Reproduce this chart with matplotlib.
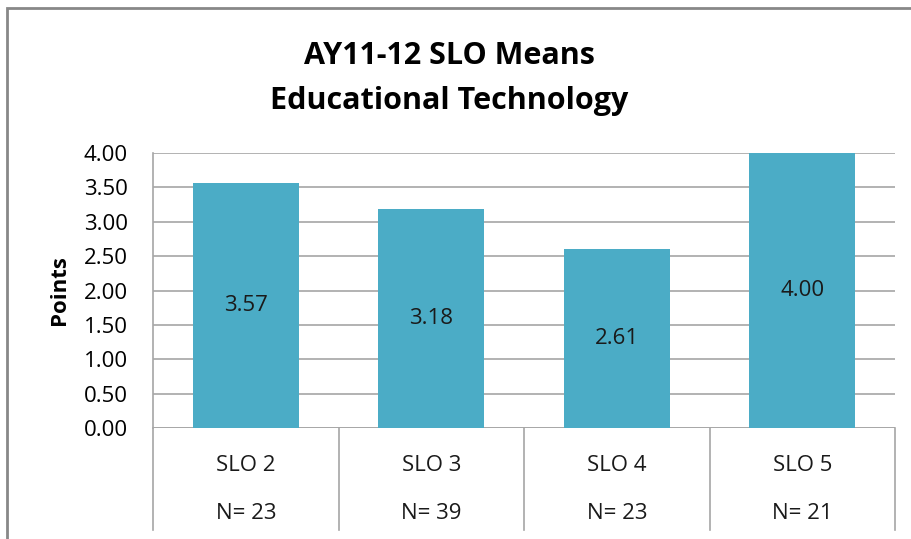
import matplotlib.pyplot as plt
import matplotlib.transforms as mtransforms
from matplotlib.patches import Rectangle

plt.rcParams['font.family'] = ['Open Sans', 'DejaVu Sans']

categories = ['SLO 2', 'SLO 3', 'SLO 4', 'SLO 5']
counts     = [23, 39, 23, 21]
means      = [3.57, 3.18, 2.61, 4.00]
yticks     = [0.0, 0.5, 1.0, 1.5, 2.0, 2.5, 3.0, 3.5, 4.0]

BAR_COLOR  = '#4BACC6'
GRID_COLOR = '#A6A6A6'

fig = plt.figure(figsize=(9.12, 5.39), dpi=100)
ax = fig.add_axes([0.1678, 0.2059, 0.9814 - 0.1678, 0.7161 - 0.2059])

x = list(range(len(categories)))
ax.bar(x, means, width=0.57, color=BAR_COLOR, zorder=3)

for xi, v in zip(x, means):
    ax.text(xi, v / 2, f'{v:.2f}', ha='center', va='center', fontsize=16, color='#1a1a1a', zorder=4)

ax.set_xlim(-0.5, len(categories) - 0.5)
ax.set_ylim(0, 4)
ax.set_yticks(yticks)
ax.set_yticklabels([f'{t:.2f}' for t in yticks], fontsize=16)
ax.tick_params(axis='y', length=0, pad=18)
ax.set_xticks([])

ax.grid(axis='y', color=GRID_COLOR, linewidth=1.2, zorder=0)
for s in ['top', 'right', 'bottom']:
    ax.spines[s].set_visible(False)
ax.spines['left'].set_color(GRID_COLOR)
ax.spines['left'].set_linewidth(1.2)
ax.axhline(0, color=GRID_COLOR, linewidth=1.2, zorder=2)

ax.set_ylabel('Points', fontsize=16, fontweight='bold', labelpad=10)

# category table below the plot
trans = mtransforms.blended_transform_factory(ax.transData, ax.transAxes)
for b in [i - 0.5 for i in range(len(categories) + 1)]:
    ax.plot([b, b], [0, -0.372], transform=trans, color=GRID_COLOR, linewidth=1.2, clip_on=False)
for xi, cat, n in zip(x, categories, counts):
    ax.text(xi, -0.135, cat, transform=trans, ha='center', va='center', fontsize=16, color='#1a1a1a')
    ax.text(xi, -0.31, f'N= {n}', transform=trans, ha='center', va='center', fontsize=16, color='#1a1a1a')

fig.text(0.493, 0.897, 'AY11-12 SLO Means', ha='center', va='center', fontsize=22, fontweight='bold')
fig.text(0.493, 0.813, 'Educational Technology', ha='center', va='center', fontsize=22, fontweight='bold')

# outer chart border
fig.patches.append(Rectangle((7 / 912, -0.05), 1.2, 1 - 8 / 539 + 0.05, transform=fig.transFigure,
                             fill=False, edgecolor='#888888', linewidth=2))

fig.savefig('out.png', dpi=100)
